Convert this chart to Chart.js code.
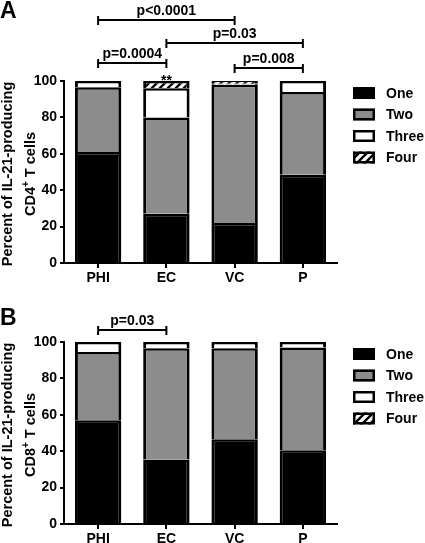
<!DOCTYPE html>
<html>
<head>
<meta charset="utf-8">
<script src="https://cdn.jsdelivr.net/npm/chart.js@4"></script>
<style>
    body { margin: 0; background: #fff; }
    canvas { position: absolute; left: 0; }
    #chartA { top: 0; }
    #chartB { top: 290px; }
</style>
</head>
<body>
<canvas id="chartA" width="425" height="290"></canvas>
<canvas id="chartB" width="425" height="253"></canvas>
<script>
// Data
const categories = ['PHI', 'EC', 'VC', 'P'];
const seriesNames = ['One', 'Two', 'Three', 'Four'];
const yTicks = [0, 20, 40, 60, 80, 100];

// Panel A - CD4+ T cells (percent of IL-21-producing cells)
const cd4One = [61, 27, 22, 48.5];
const cd4Two = [35.5, 53, 76, 45.5];
const cd4Three = [3.5, 16, 0.5, 6];
const cd4Four = [0, 4, 1.5, 0];

// Panel B - CD8+ T cells
const cd8One = [57, 35.5, 46.5, 40.5];
const cd8Two = [37.5, 61, 50, 56.5];
const cd8Three = [5.5, 3.5, 3.5, 3];
const cd8Four = [0, 0, 0, 0];

const FONT = "'Liberation Sans', Arial, sans-serif";
Chart.defaults.font.family = FONT;
Chart.defaults.font.size = 14;
Chart.defaults.font.weight = 'bold';
Chart.defaults.color = '#000';

// Diagonal hatch for "Four"
function makeHatch() {
    const c = document.createElement('canvas');
    c.width = 8; c.height = 8;
    const g = c.getContext('2d');
    g.fillStyle = '#fff';
    g.fillRect(0, 0, 8, 8);
    g.strokeStyle = '#000';
    g.lineWidth = 2.4;
    g.beginPath();
    g.moveTo(-2, 10); g.lineTo(10, -2);
    g.moveTo(-6, 6); g.lineTo(6, -6);
    g.moveTo(2, 14); g.lineTo(14, 2);
    g.stroke();
    return g.createPattern(c, 'repeat');
}
const hatch = makeHatch();

function buildDatasets(one, two, three, four) {
    const values = [one, two, three, four];
    const fills = ['#000000', '#8c8c8c', '#ffffff', hatch];
    return seriesNames.map((name, i) => ({
        label: name,
        data: values[i],
        backgroundColor: fills[i],
        borderColor: '#000',
        borderWidth: { top: 2.5, left: 3, right: 3, bottom: 0 },
        borderSkipped: false,
        barPercentage: 0.68,
        categoryPercentage: 1
    }));
}

// Brackets, legend, titles and panel letter
function overlay(cfg) {
    return {
        id: 'overlay' + cfg.letter,
        afterDraw(chart) {
            const ctx = chart.ctx;
            const xs = chart.scales.x;
            const area = chart.chartArea;
            ctx.save();
            ctx.fillStyle = '#000';
            ctx.strokeStyle = '#000';

            // panel letter
            ctx.font = 'bold 23px ' + FONT;
            ctx.textAlign = 'left';
            ctx.textBaseline = 'alphabetic';
            ctx.fillText(cfg.letter, 0, cfg.letterY);

            // p-value brackets
            ctx.lineWidth = 2;
            ctx.font = 'bold 14px ' + FONT;
            cfg.brackets.forEach(b => {
                const x1 = xs.getPixelForValue(b.from);
                const x2 = xs.getPixelForValue(b.to);
                ctx.beginPath();
                ctx.moveTo(x1, b.y); ctx.lineTo(x2, b.y);
                ctx.moveTo(x1, b.y - 4); ctx.lineTo(x1, b.y + 5);
                ctx.moveTo(x2, b.y - 4); ctx.lineTo(x2, b.y + 5);
                ctx.stroke();
                ctx.textAlign = 'center';
                ctx.fillText(b.label, (x1 + x2) / 2, b.y - 5);
            });

            // stars
            (cfg.stars || []).forEach(s => {
                ctx.textAlign = 'center';
                ctx.fillText(s.text, xs.getPixelForValue(s.at), s.y);
            });

            // y axis title (two lines, superscript +)
            const yc = (area.top + area.bottom) / 2 + 2;
            ctx.save();
            ctx.translate(8, yc);
            ctx.rotate(-Math.PI / 2);
            ctx.font = 'bold 14.5px ' + FONT;
            ctx.textAlign = 'center';
            ctx.textBaseline = 'middle';
            ctx.fillText('Percent of IL-21-producing', 0, 0);
            ctx.restore();

            ctx.save();
            ctx.translate(31, yc);
            ctx.rotate(-Math.PI / 2);
            ctx.textBaseline = 'middle';
            ctx.textAlign = 'left';
            const parts = [cfg.cell, '+', ' T cells'];
            ctx.font = 'bold 14.5px ' + FONT;
            const w1 = ctx.measureText(parts[0]).width;
            const w3 = ctx.measureText(parts[2]).width;
            ctx.font = 'bold 10px ' + FONT;
            const w2 = ctx.measureText(parts[1]).width;
            let x0 = -(w1 + w2 + w3) / 2;
            ctx.font = 'bold 14.5px ' + FONT;
            ctx.fillText(parts[0], x0, 0);
            ctx.font = 'bold 10px ' + FONT;
            ctx.fillText(parts[1], x0 + w1, -5);
            ctx.font = 'bold 14.5px ' + FONT;
            ctx.fillText(parts[2], x0 + w1 + w2, 0);
            ctx.restore();

            // legend
            ctx.font = 'bold 14px ' + FONT;
            ctx.textAlign = 'left';
            ctx.textBaseline = 'middle';
            chart.data.datasets.forEach((ds, i) => {
                const y = cfg.legendY + i * 21.5;
                ctx.fillStyle = ds.backgroundColor;
                ctx.fillRect(353, y - 6, 22, 12);
                ctx.lineWidth = 2.5;
                ctx.strokeRect(354.25, y - 4.75, 19.5, 9.5);
                ctx.fillStyle = '#000';
                ctx.fillText(ds.label, 386, y + 1);
            });
            ctx.restore();
        }
    };
}

function makeChart(id, datasets, top, xHeight, cfg) {
    return new Chart(document.getElementById(id), {
        type: 'bar',
        data: { labels: categories, datasets: datasets },
        options: {
            responsive: false,
            animation: false,
            layout: { padding: { left: 0, top: top, right: 88, bottom: 0 } },
            plugins: { legend: { display: false }, tooltip: { enabled: false } },
            scales: {
                x: {
                    stacked: true,
                    afterFit: s => { s.height = xHeight; },
                    grid: { drawOnChartArea: false, offset: false, tickLength: 5, lineWidth: 2, color: '#000' },
                    border: { display: true, width: 2, color: '#000' },
                    ticks: { padding: 2, font: { size: 14, weight: 'bold' } }
                },
                y: {
                    stacked: true,
                    min: 0,
                    max: 100,
                    afterFit: s => { s.width = 64; },
                    afterBuildTicks: s => { s.ticks = yTicks.map(v => ({ value: v })); },
                    grid: { drawOnChartArea: false, tickLength: 4, lineWidth: 2, color: '#000' },
                    border: { display: true, width: 2, color: '#000' },
                    ticks: { padding: 3, font: { size: 14, weight: 'bold' } }
                }
            }
        },
        plugins: [overlay(cfg)]
    });
}

makeChart('chartA', buildDatasets(cd4One, cd4Two, cd4Three, cd4Four), 81, 27, {
    letter: 'A',
    letterY: 18,
    cell: 'CD4',
    legendY: 93,
    brackets: [
        { from: 0, to: 2, y: 20, label: 'p<0.0001' },
        { from: 1, to: 3, y: 43, label: 'p=0.03' },
        { from: 0, to: 1, y: 63, label: 'p=0.0004' },
        { from: 2, to: 3, y: 68, label: 'p=0.008' }
    ],
    stars: [{ at: 1, y: 85, text: '**' }]
});

makeChart('chartB', buildDatasets(cd8One, cd8Two, cd8Three, cd8Four), 52, 19, {
    letter: 'B',
    letterY: 35,
    cell: 'CD8',
    legendY: 64,
    brackets: [
        { from: 0, to: 1, y: 40, label: 'p=0.03' }
    ]
});
</script>
</body>
</html>
